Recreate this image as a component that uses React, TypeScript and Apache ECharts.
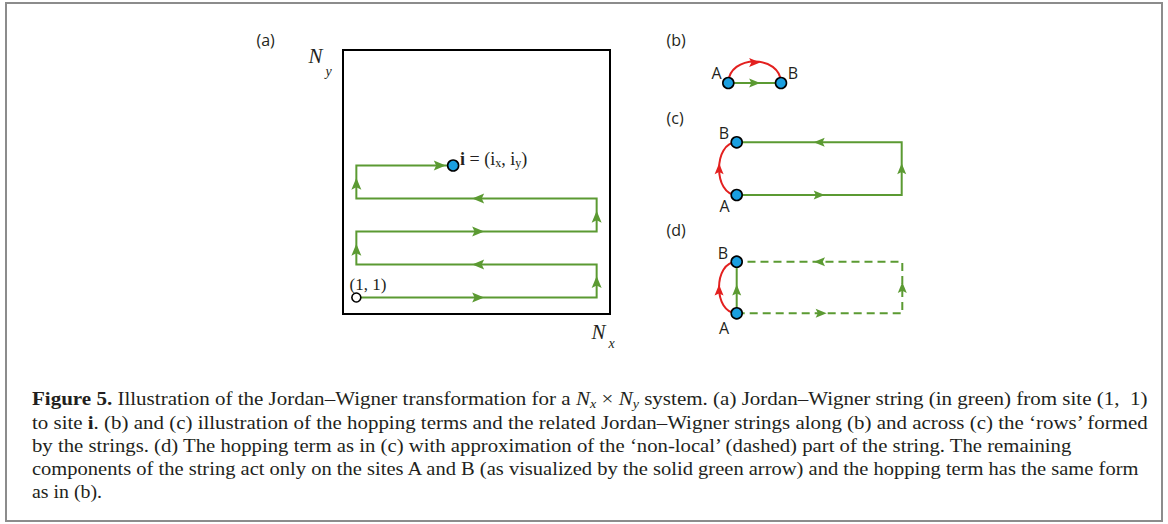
import React, { useEffect, useRef } from "react";
import * as echarts from "echarts";

// ---------------- data (lattice units of each panel) ----------------
// (a) Jordan–Wigner string from site (1, 1) to site i
const stringA: number[][] = [
  [0.4, 0.5], [7.6, 0.5], [7.6, 1.5], [0.4, 1.5], [0.4, 2.5],
  [7.6, 2.5], [7.6, 3.5], [0.4, 3.5], [0.4, 4.5], [3.3, 4.5],
];
const arrowsA: [number, number, string][] = [
  [4.05, 0.5, "right"], [7.6, 0.97, "up"], [4.05, 1.5, "left"], [0.4, 1.95, "up"],
  [4.05, 2.5, "right"], [7.6, 2.95, "up"], [4.05, 3.5, "left"], [0.4, 3.95, "up"],
  [2.9, 4.5, "right"],
];
const siteStartA: number[] = [0.4, 0.5];
const siteEndA: number[] = [3.3, 4.5];

// (b) hopping along a row
const sitesB: number[][] = [[0, 0], [1, 0]];
const stringB: number[][] = [[0, 0], [1, 0]];
const arrowsB: [number, number, string][] = [[0.5, 0, "right"]];
const hopB: number[][] = [[0, 0, 1, 0, 0.5, 1]]; // x0, y0, x1, y1, apexX, apexY
const hopArrowsB: [number, number, string][] = [[0.5, 0.95, "right"]];

// (c) hopping across rows
const sitesC: number[][] = [[0, 0], [0, 1]];
const stringC: number[][] = [[0, 0], [3, 0], [3, 1], [0, 1]];
const arrowsC: [number, number, string][] = [[1.5, 0, "right"], [3, 0.5, "up"], [1.5, 1, "left"]];
const hopC: number[][] = [[0, 0, 0, 1, -0.32, 0.5]];
const hopArrowsC: [number, number, string][] = [[-0.32, 0.5, "up"]];

// (d) approximated non-local part
const sitesD: number[][] = [[0, 0], [0, 1]];
const stringDDashed: number[][] = [[0, 0], [3, 0], [3, 1], [0, 1]];
const stringDSolid: number[][] = [[0, 0], [0, 1]];
const arrowsD: [number, number, string][] = [[1.53, 0, "right"], [3, 0.5, "up"], [1.5, 1, "left"], [0, 0.45, "up"]];
const hopD: number[][] = [[0, 0, 0, 1, -0.32, 0.5]];
const hopArrowsD: [number, number, string][] = [[-0.32, 0.45, "up"]];

const siteLabelsB = ["A", "B"];
const siteLabelsC = ["A", "B"];
const siteLabelsD = ["A", "B"];

const captionLines: string[] = [
  "{b|Figure 5.} Illustration of the Jordan–Wigner transformation for a {i|N}{s|x} × {i|N}{s|y} system. (a) Jordan–Wigner string (in green) from site (1,  1)",
  "to site {b|i}. (b) and (c) illustration of the hopping terms and the related Jordan–Wigner strings along (b) and across (c) the ‘rows’ formed",
  "by the strings. (d) The hopping term as in (c) with approximation of the ‘non-local’ (dashed) part of the string. The remaining",
  "components of the string act only on the sites A and B (as visualized by the solid green arrow) and the hopping term has the same form",
  "as in (b).",
];
const captionLineEnds: number[] = [1148, 1150, 1075, 1141, 102];

// ---------------- styles ----------------
const GREEN = "#5b9a32";
const RED = "#e3201f";
const BLUE = "#1a9fe0";
const INK = "#231f20";
const SERIF = "Liberation Serif";
const SANS = "Open Sans";
const ARROW_UP = "path://M5,0 L10,12 L5,9.6 L0,12 Z";
const ROT: Record<string, number> = { up: 0, left: 90, down: 180, right: -90 };

function measureRich(line: string, fonts: Record<string, string>, base: string): number {
  const ctx = document.createElement("canvas").getContext("2d")!;
  const re = /\{(\w+)\|([^}]*)\}|([^{]+)/g;
  let w = 0;
  let m: RegExpExecArray | null;
  while ((m = re.exec(line))) {
    if (m[1]) {
      ctx.font = fonts[m[1]];
      w += ctx.measureText(m[2]).width;
    } else {
      ctx.font = base;
      w += ctx.measureText(m[3]).width;
    }
  }
  return w;
}

function lineSeries(data: number[][], idx: number, dashed = false) {
  return {
    type: "line",
    xAxisIndex: idx,
    yAxisIndex: idx,
    data,
    symbol: "none",
    clip: false,
    silent: true,
    z: 2,
    lineStyle: { color: GREEN, width: 2, type: dashed ? [8, 5] : "solid", cap: "butt", join: "miter" },
  };
}

function arrowSeries(data: [number, number, string][], idx: number, color: string, size: number[]) {
  return {
    type: "scatter",
    xAxisIndex: idx,
    yAxisIndex: idx,
    clip: false,
    silent: true,
    z: 4,
    symbol: ARROW_UP,
    symbolSize: size,
    itemStyle: { color, opacity: 1 },
    data: data.map((d) => ({ value: [d[0], d[1]], symbolRotate: ROT[d[2]] })),
  };
}

function siteSeries(data: number[][], idx: number, fill: string, size: number) {
  return {
    type: "scatter",
    xAxisIndex: idx,
    yAxisIndex: idx,
    clip: false,
    silent: true,
    z: 6,
    symbol: "circle",
    symbolSize: size,
    itemStyle: { color: fill, borderColor: "#000", borderWidth: 1.6, opacity: 1 },
    data,
  };
}

function hopSeries(data: number[][], idx: number) {
  return {
    type: "custom",
    xAxisIndex: idx,
    yAxisIndex: idx,
    silent: true,
    z: 3,
    data,
    encode: { x: [0, 2, 4], y: [1, 3, 5] },
    renderItem: (_p: any, api: any) => {
      const p0 = api.coord([api.value(0), api.value(1)]);
      const p1 = api.coord([api.value(2), api.value(3)]);
      const ap = api.coord([api.value(4), api.value(5)]);
      const mx = (p0[0] + p1[0]) / 2;
      const my = (p0[1] + p1[1]) / 2;
      const dx = ((ap[0] - mx) * 4) / 3;
      const dy = ((ap[1] - my) * 4) / 3;
      return {
        type: "bezierCurve",
        shape: {
          x1: p0[0], y1: p0[1], x2: p1[0], y2: p1[1],
          cpx1: p0[0] + dx, cpy1: p0[1] + dy, cpx2: p1[0] + dx, cpy2: p1[1] + dy,
        },
        style: { stroke: RED, lineWidth: 2, fill: null },
      };
    },
  };
}

function txt(
  text: string, x: number, y: number, family: string, size: number,
  align = "left", fontStyle = "normal", extra: any = {}
) {
  return {
    type: "text",
    x,
    y,
    silent: true,
    z: 10,
    style: {
      text,
      fontFamily: family,
      fontSize: size,
      fontStyle,
      fontWeight: "normal",
      fill: INK,
      align,
      textAlign: align,
      verticalAlign: "middle",
      textVerticalAlign: "middle",
      ...extra,
    },
  };
}

export default function App() {
  const ref = useRef<HTMLDivElement>(null);

  useEffect(() => {
    const chart = echarts.init(ref.current!, null, { renderer: "svg" });

    const capSize = 18;
    const capBase = `normal normal ${capSize}px ${SERIF}`;
    const capFonts: Record<string, string> = {
      b: `normal bold ${capSize}px ${SERIF}`,
      i: `italic normal ${capSize}px ${SERIF}`,
      s: `italic normal 12px ${SERIF}`,
    };
    const capRich = {
      b: { fontWeight: "bold", fontSize: capSize, fontFamily: SERIF, lineHeight: 20, fill: INK },
      i: { fontStyle: "italic", fontSize: capSize, fontFamily: SERIF, lineHeight: 20, fill: INK },
      s: { fontStyle: "italic", fontSize: 12, fontFamily: SERIF, lineHeight: 10, verticalAlign: "bottom", fill: INK },
    };

    const captionEls = captionLines.map((line, k) => {
      const natural = measureRich(line, capFonts, capBase);
      const sx = natural > 0 ? (captionLineEnds[k] - 32) / natural : 1;
      return {
        type: "text",
        x: 32,
        y: 399.5 + k * 23.1,
        scaleX: sx,
        silent: true,
        z: 10,
        style: {
          text: line,
          fontFamily: SERIF,
          fontSize: capSize,
          fill: INK,
          lineHeight: 20,
          align: "left",
          textAlign: "left",
          verticalAlign: "middle",
          textVerticalAlign: "middle",
          rich: capRich,
        },
      };
    });

    const labelPos = (lbls: string[], xs: number[], ys: number[]) =>
      lbls.map((l, k) => txt(l, xs[k], ys[k], SANS, 16, "center"));

    const option: any = {
      animation: false,
      backgroundColor: "#fff",
      grid: [
        { left: 343, top: 50, width: 267, height: 264, show: true, borderColor: "#000", borderWidth: 2, backgroundColor: "transparent" },
        { left: 728.3, top: 61.5, width: 52.7, height: 21.5 },
        { left: 736.7, top: 142.3, width: 165, height: 52.7 },
        { left: 736.7, top: 261.7, width: 165.6, height: 51.6 },
      ],
      xAxis: [
        { type: "value", gridIndex: 0, min: 0, max: 8, show: false },
        { type: "value", gridIndex: 1, min: 0, max: 1, show: false },
        { type: "value", gridIndex: 2, min: 0, max: 3, show: false },
        { type: "value", gridIndex: 3, min: 0, max: 3, show: false },
      ],
      yAxis: [
        { type: "value", gridIndex: 0, min: 0, max: 8, show: false },
        { type: "value", gridIndex: 1, min: 0, max: 1, show: false },
        { type: "value", gridIndex: 2, min: 0, max: 1, show: false },
        { type: "value", gridIndex: 3, min: 0, max: 1, show: false },
      ],
      series: [
        // (a)
        lineSeries(stringA, 0),
        arrowSeries(arrowsA, 0, GREEN, [10, 12]),
        siteSeries([siteStartA], 0, "#fff", 9),
        siteSeries([siteEndA], 0, BLUE, 11),
        // (b)
        lineSeries(stringB, 1),
        hopSeries(hopB, 1),
        arrowSeries(arrowsB, 1, GREEN, [9, 11]),
        arrowSeries(hopArrowsB, 1, RED, [9, 11]),
        siteSeries(sitesB, 1, BLUE, 11),
        // (c)
        lineSeries(stringC, 2),
        hopSeries(hopC, 2),
        arrowSeries(arrowsC, 2, GREEN, [9, 11]),
        arrowSeries(hopArrowsC, 2, RED, [9, 11]),
        siteSeries(sitesC, 2, BLUE, 11),
        // (d)
        lineSeries(stringDDashed, 3, true),
        lineSeries(stringDSolid, 3),
        hopSeries(hopD, 3),
        arrowSeries(arrowsD, 3, GREEN, [9, 11]),
        arrowSeries(hopArrowsD, 3, RED, [9, 11]),
        siteSeries(sitesD, 3, BLUE, 11),
      ],
      graphic: [
        {
          type: "rect",
          silent: true,
          shape: { x: 6, y: 3, width: 1156, height: 518 },
          style: { fill: "none", stroke: "#8c8c8c", lineWidth: 2 },
        },
        txt("(a)", 256.5, 40, SANS, 16),
        txt("(b)", 666.5, 40, SANS, 16),
        txt("(c)", 666.5, 118, SANS, 16),
        txt("(d)", 666.5, 230, SANS, 16),
        txt("N", 308.5, 56, SERIF, 21, "left", "italic"),
        txt("y", 325.5, 71, SERIF, 14, "left", "italic"),
        txt("N", 591.5, 331.5, SERIF, 21, "left", "italic"),
        txt("x", 608.5, 343.5, SERIF, 14, "left", "italic"),
        txt("(1, 1)", 349.5, 284, SERIF, 17),
        txt("{b|i} = (i{s|x}, i{s|y})", 460, 159, SERIF, 18, "left", "normal", {
          lineHeight: 20,
          rich: {
            b: { fontWeight: "bold", fontSize: 18, fontFamily: SERIF, lineHeight: 20, fill: INK },
            s: { fontSize: 12, fontFamily: SERIF, lineHeight: 10, verticalAlign: "bottom", fill: INK },
          },
        }),
        ...labelPos(siteLabelsB, [716.5, 793], [72.5, 72.5]),
        ...labelPos(siteLabelsC, [724.5, 724], [206, 132.5]),
        ...labelPos(siteLabelsD, [724, 723], [327.5, 252.5]),
        ...captionEls,
      ],
    };

    chart.setOption(option);
    return () => chart.dispose();
  }, []);

  return (
    <div
      ref={ref}
      style={{ position: "fixed", left: 0, top: 0, width: 1168, height: 524, background: "#fff" }}
    />
  );
}
